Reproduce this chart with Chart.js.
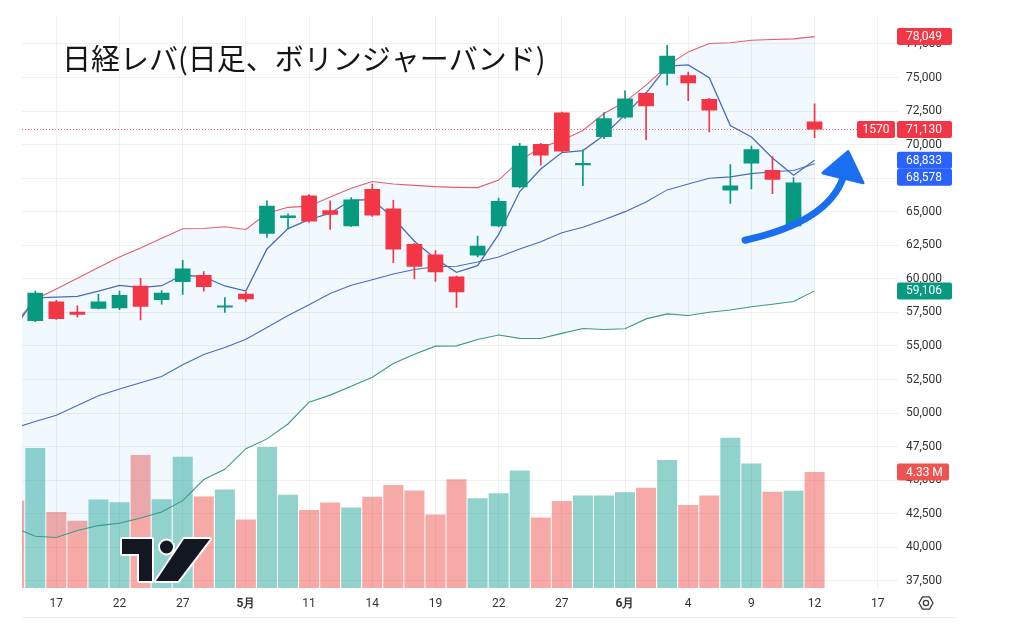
<!DOCTYPE html>
<html>
<head>
<meta charset="utf-8">
<script src="https://cdn.jsdelivr.net/npm/chart.js@4.4.1/dist/chart.umd.min.js"></script>
<style>
  html, body { margin: 0; padding: 0; background: #fff; overflow: hidden; }
  canvas { display: block; }
</style>
</head>
<body>
<canvas id="chart" width="1024" height="631"></canvas>
<script>
// trading days shown (2026), bar index = position in these arrays
var dates = ['4/15','4/16','4/17','4/20','4/21','4/22','4/23','4/24','4/27','4/28','4/30','5/1','5/7','5/8','5/11','5/12','5/13','5/14','5/15','5/18','5/19','5/20','5/21','5/22','5/25','5/26','5/27','5/28','5/29','6/1','6/2','6/3','6/4','6/5','6/8','6/9','6/10','6/11','6/12'];

var open  = [57600,56860,58310,57560,57780,57820,59490,58430,59760,60290,57870,58890,63370,64530,66220,65110,63920,66700,65250,62590,61810,60170,61740,63920,66820,70040,72390,68470,70570,72030,73840,75290,75170,73400,66580,68590,68110,63920,71730];
var high  = [57800,59090,58400,58000,58840,59090,60050,59130,61380,60540,58600,59040,65810,64840,66290,65810,66050,67070,65860,62650,62100,60200,63190,66020,70090,70100,72420,69610,72390,74010,73900,77400,75410,73450,68520,69900,69120,67550,73040];
var low   = [56700,56820,56980,57150,57760,57710,56950,58110,58840,59090,57510,58310,63080,63730,64200,63680,63900,64650,61210,60000,59810,57870,61630,63880,66780,68470,69450,66950,70450,71950,70380,74440,73280,70940,65620,66710,66340,63880,70520];
var close = [56950,58960,57020,57320,58310,58800,57920,58960,60780,59400,57970,58480,65440,64720,64280,64770,65910,64720,62180,60900,60490,59010,62470,65810,69920,69190,69490,68640,71970,73430,72870,76620,74570,72550,66950,69650,67380,67180,71130];
var volume = [3.26,5.23,2.84,2.51,3.31,3.20,4.97,3.32,4.90,3.42,3.68,2.56,5.27,3.48,2.91,3.19,3.01,3.41,3.85,3.64,2.75,4.06,3.35,3.54,4.39,2.63,3.25,3.46,3.46,3.58,3.75,4.78,3.10,3.46,5.61,4.65,3.60,3.63,4.33];

// Bollinger bands and short moving average
var upperBand = [56570,58480,59250,60050,60850,61630,62300,63030,63730,63750,63880,63680,64890,65330,65420,66100,66750,67260,67070,66970,66870,66820,66800,67360,68810,69780,70330,71060,72320,73190,74440,75890,76910,77540,77590,77780,77830,77880,78049];
var basisBand = [48880,49380,49840,50560,51290,51800,52260,52720,53610,54370,54880,55500,56370,57270,58070,58910,59520,59930,60360,60700,60900,60940,61260,61630,62230,62770,63440,63850,64410,65010,65730,66630,67070,67500,67600,67840,67980,68080,68578];
var lowerBand = [41470,40820,40730,41260,41620,41790,42180,42630,43480,45050,45810,47350,48080,49190,50810,51340,52000,52670,53700,54390,54990,55010,55480,55820,55570,55560,55940,56300,56230,56280,57020,57390,57270,57510,57680,57920,58110,58310,59106];
var shortMA   = [56280,58580,58640,58690,59090,59510,59350,59490,60290,60150,59470,59090,62230,63750,64410,64890,65860,65910,64530,62810,61500,60490,60990,63320,66510,68180,69410,69560,70700,72220,73840,75850,75940,74980,71420,70570,69000,67720,68833];

// x axis labels (bar index -> text), price axis ticks
var tickPos  = [2, 5, 8, 11, 14, 17, 20, 23, 26, 29, 32, 35, 38, 41];
var tickText = ['17','22','27','5月','11','14','19','22','27','6月','4','9','12','17'];
var priceTicks = [37500,40000,42500,45000,47500,50000,52500,55000,57500,60000,62500,65000,67500,70000,72500,75000,77500];

var titleText = '日経レバ(日足、ボリンジャーバンド)';
var tickerCode = '1570';

var UP = '#089981', DOWN = '#f23645';
var isUp = close.map(function(c, i) { return c >= open[i]; });
var candleColor = isUp.map(function(u) { return u ? UP : DOWN; });
var volColor = isUp.map(function(u) { return u ? 'rgba(38,166,154,0.5)' : 'rgba(239,83,80,0.5)'; });

function pts(arr) { return arr.map(function(v, i) { return { x: i, y: v }; }); }

function roundRect(ctx, x, y, w, h, r) {
  ctx.beginPath();
  ctx.moveTo(x + r, y);
  ctx.lineTo(x + w - r, y);
  ctx.quadraticCurveTo(x + w, y, x + w, y + r);
  ctx.lineTo(x + w, y + h - r);
  ctx.quadraticCurveTo(x + w, y + h, x + w - r, y + h);
  ctx.lineTo(x + r, y + h);
  ctx.quadraticCurveTo(x, y + h, x, y + h - r);
  ctx.lineTo(x, y + r);
  ctx.quadraticCurveTo(x, y, x + r, y);
  ctx.closePath();
}

function fmt(v) { return Number(v).toLocaleString('en-US'); }

var overlay = {
  id: 'overlay',
  beforeDatasetsDraw: function(chart) {
    var ctx = chart.ctx, area = chart.chartArea;
    var py = Math.round(chart.scales.y.getPixelForValue(close[close.length - 1])) + 0.5;
    ctx.save();
    ctx.strokeStyle = 'rgba(242,54,69,0.75)';
    ctx.lineWidth = 1;
    ctx.setLineDash([1, 2]);
    ctx.beginPath();
    ctx.moveTo(area.left, py);
    ctx.lineTo(area.right - 41, py);
    ctx.stroke();
    ctx.restore();
  },
  afterDraw: function(chart) {
    var ctx = chart.ctx, area = chart.chartArea;
    var x = chart.scales.x, y = chart.scales.y, yv = chart.scales.yv;
    ctx.save();

    // title
    ctx.fillStyle = '#161616';
    ctx.font = '29px "Noto Sans CJK JP"';
    ctx.textBaseline = 'middle';
    ctx.textAlign = 'left';
    ctx.fillText(titleText, area.left + 40, 59);

    // watermark logo
    var lx = area.left + 100, by = area.bottom - 7;
    function logoPath() {
      ctx.beginPath();
      ctx.moveTo(lx, by - 42); ctx.lineTo(lx + 30, by - 42); ctx.lineTo(lx + 30, by);
      ctx.lineTo(lx + 17, by); ctx.lineTo(lx + 17, by - 27); ctx.lineTo(lx, by - 27); ctx.closePath();
      ctx.moveTo(lx + 51, by - 34); ctx.arc(lx + 44.5, by - 34, 6.5, 0, Math.PI * 2);
      ctx.moveTo(lx + 62, by - 42); ctx.lineTo(lx + 88, by - 42); ctx.lineTo(lx + 56, by); ctx.lineTo(lx + 34, by); ctx.closePath();
    }
    logoPath();
    ctx.strokeStyle = '#ffffff'; ctx.lineWidth = 4; ctx.lineJoin = 'round';
    ctx.stroke();
    ctx.fillStyle = '#131722';
    ctx.fill();

    // blue arrow (anchored in data space)
    var A = function(n, v) { return [x.getPixelForValue(n), y.getPixelForValue(v)]; };
    var s = A(34.70, 62880), c1 = A(36.60, 63530), c2 = A(38.73, 64770), e = A(39.35, 67520);
    var tip = A(39.59, 69480), hl = A(38.40, 67890), hr = A(40.30, 67160);
    ctx.strokeStyle = '#1a6ef0';
    ctx.fillStyle = '#1a6ef0';
    ctx.lineWidth = 7;
    ctx.lineCap = 'round';
    ctx.beginPath();
    ctx.moveTo(s[0], s[1]);
    ctx.bezierCurveTo(c1[0], c1[1], c2[0], c2[1], e[0], e[1]);
    ctx.stroke();
    ctx.lineWidth = 3;
    ctx.beginPath();
    ctx.moveTo(tip[0], tip[1]); ctx.lineTo(hr[0], hr[1]); ctx.lineTo(hl[0], hl[1]); ctx.closePath();
    ctx.fill(); ctx.stroke();

    // price tags on the right axis
    ctx.font = '12px Roboto';
    ctx.textBaseline = 'middle';
    ctx.lineWidth = 1;
    var tx = y.left - 1;
    function tag(py, text, bg, w) {
      ctx.fillStyle = bg;
      roundRect(ctx, tx, py - 8.5, w || 55, 17, 2);
      ctx.fill();
      ctx.fillStyle = '#ffffff';
      ctx.textAlign = 'left';
      ctx.fillText(text, y.left + 8, py + 0.5);
    }
    var last = close.length - 1;
    tag(y.getPixelForValue(upperBand[last]), fmt(upperBand[last]), '#f23645');
    var pc = y.getPixelForValue(close[last]);
    tag(pc, fmt(close[last]), '#f23645');
    ctx.fillStyle = '#f23645';
    roundRect(ctx, y.left - 41, pc - 8.5, 38, 17, 2);
    ctx.fill();
    ctx.fillStyle = '#ffffff';
    ctx.textAlign = 'center';
    ctx.fillText(tickerCode, y.left - 22, pc + 0.5);
    var pm = y.getPixelForValue(shortMA[last]);
    var pb = Math.max(y.getPixelForValue(basisBand[last]), pm + 17);
    tag(pm, fmt(shortMA[last]), '#2962ff');
    tag(pb, fmt(basisBand[last]), '#2962ff');
    tag(y.getPixelForValue(lowerBand[last]), fmt(lowerBand[last]), '#089981');
    tag(yv.getPixelForValue(volume[last]), volume[last].toFixed(2) + ' M', '#ef5350', 52);

    // bottom rule and settings icon
    ctx.strokeStyle = '#eceef2';
    ctx.beginPath();
    ctx.moveTo(area.left, 617.5); ctx.lineTo(955, 617.5);
    ctx.stroke();
    var gx = y.left + 28, gy = 603;
    ctx.strokeStyle = '#3a3a3a';
    ctx.lineWidth = 1.3;
    ctx.beginPath();
    for (var k = 0; k < 6; k++) {
      var a = Math.PI / 3 * k;
      var px = gx + 7 * Math.cos(a), py2 = gy + 7 * Math.sin(a);
      if (k === 0) ctx.moveTo(px, py2); else ctx.lineTo(px, py2);
    }
    ctx.closePath();
    ctx.stroke();
    ctx.beginPath();
    ctx.arc(gx, gy, 2.6, 0, Math.PI * 2);
    ctx.stroke();
    ctx.restore();
  }
};

var grid = 'rgba(42,46,57,0.07)';

new Chart(document.getElementById('chart').getContext('2d'), {
  data: {
    datasets: [
      {
        type: 'bar', label: 'Volume', yAxisID: 'yv',
        data: pts(volume), backgroundColor: volColor,
        barPercentage: 0.95, categoryPercentage: 1, grouped: false, order: 10
      },
      {
        type: 'line', label: 'Upper', data: pts(upperBand),
        borderColor: '#e0606d', borderWidth: 1.1, pointRadius: 0, tension: 0,
        fill: '+1', backgroundColor: 'rgba(33,150,243,0.06)', order: 8
      },
      {
        type: 'line', label: 'Lower', data: pts(lowerBand),
        borderColor: '#3d9a82', borderWidth: 1.1, pointRadius: 0, tension: 0, fill: false, order: 8
      },
      {
        type: 'line', label: 'Basis', data: pts(basisBand),
        borderColor: '#4a6bbd', borderWidth: 1.1, pointRadius: 0, tension: 0, fill: false, order: 7
      },
      {
        type: 'line', label: 'MA', data: pts(shortMA),
        borderColor: '#4a6bbd', borderWidth: 1.3, pointRadius: 0, tension: 0, fill: false, order: 7
      },
      {
        type: 'bar', label: 'Wick',
        data: low.map(function(l, i) { return { x: i, y: [l, high[i]] }; }),
        backgroundColor: candleColor, barThickness: 1, grouped: false, order: 2
      },
      {
        type: 'bar', label: 'Body',
        data: open.map(function(o, i) { return { x: i, y: [o, close[i]] }; }),
        backgroundColor: candleColor, barPercentage: 0.745, categoryPercentage: 1,
        grouped: false, minBarLength: 2, order: 1
      }
    ]
  },
  options: {
    responsive: false,
    animation: false,
    layout: { autoPadding: false, padding: { left: 22, top: 0, right: 0, bottom: 0 } },
    plugins: { legend: { display: false }, tooltip: { enabled: false } },
    scales: {
      x: {
        type: 'linear', min: 0.37, max: 41.96, offset: false,
        afterBuildTicks: function(axis) { axis.ticks = tickPos.map(function(v) { return { value: v }; }); },
        afterFit: function(s) { s.height = 43; },
        grid: { color: grid, drawTicks: false, offset: false },
        border: { display: false },
        ticks: {
          autoSkip: false, maxRotation: 0, padding: 9, color: '#333',
          font: function(c) {
            var t = tickText[tickPos.indexOf(c.tick ? c.tick.value : -1)] || '';
            return { family: 'Roboto', size: 12, weight: t.indexOf('月') >= 0 ? 'bold' : 'normal' };
          },
          callback: function(v) { return tickText[tickPos.indexOf(v)]; }
        }
      },
      y: {
        position: 'right', min: 36970, max: 79645, offset: false,
        afterBuildTicks: function(axis) { axis.ticks = priceTicks.map(function(v) { return { value: v }; }); },
        afterFit: function(s) { s.width = 126; },
        grid: { color: grid, drawTicks: false },
        border: { display: false },
        ticks: {
          padding: 8, color: '#333',
          font: { family: 'Roboto', size: 12 },
          callback: function(v) { return fmt(v); }
        }
      },
      yv: { display: false, min: 0, max: 21.4 }
    }
  },
  plugins: [overlay]
});
</script>
</body>
</html>
